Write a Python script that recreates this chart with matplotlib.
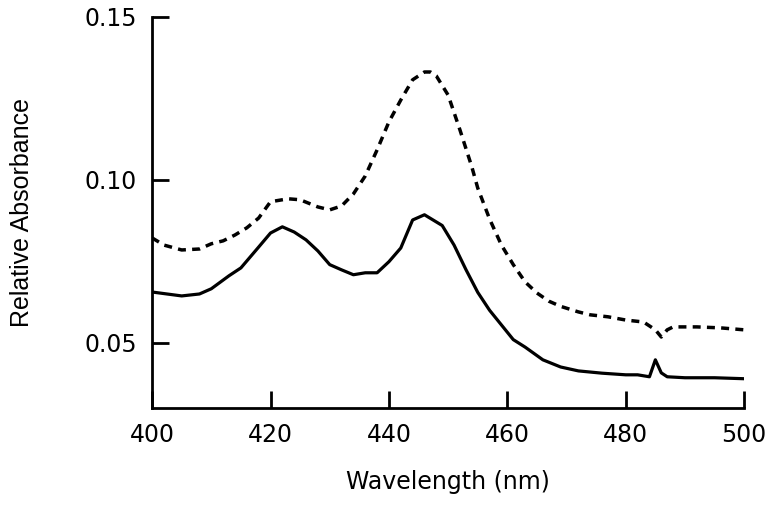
import matplotlib
matplotlib.use("Agg")
import matplotlib.pyplot as plt

solid_x = [400, 405, 408, 410, 413, 415, 418, 420, 422, 424, 426, 428, 430, 432, 434, 436, 438,
           440, 442, 444, 446, 449, 451, 453, 455, 457, 459, 461, 463, 466, 469, 472,
           476, 480, 482, 484, 485, 486, 487, 490, 495, 500]
solid_y = [0.0656, 0.0644, 0.0650, 0.0666, 0.0706, 0.0730, 0.0794, 0.0837, 0.0856, 0.0840,
           0.0816, 0.0782, 0.0740, 0.0724, 0.0709, 0.0715, 0.0715, 0.0749, 0.0791, 0.0877,
           0.0893, 0.0860, 0.0800, 0.0725, 0.0655, 0.0600, 0.0555, 0.0510, 0.0487, 0.0448,
           0.0426, 0.0414, 0.0407, 0.0402, 0.0402, 0.0396, 0.0448, 0.0408, 0.0396, 0.0393,
           0.0393, 0.0390]

dash_x = [400, 402, 405, 408, 410, 412, 414, 416, 418, 420, 423, 425, 428, 430, 432, 434, 436,
          438, 440, 442, 444, 446, 447, 448, 450, 452, 454, 455, 457, 459, 461, 463, 465, 467,
          469, 472, 474, 477, 480, 483, 485, 486, 487, 488, 492, 496, 500]
dash_y = [0.0822, 0.0800, 0.0785, 0.0788, 0.0804, 0.0813, 0.0831, 0.0853, 0.0883, 0.0933,
          0.0942, 0.0939, 0.0917, 0.0908, 0.0920, 0.0957, 0.1012, 0.1092, 0.1178, 0.1245,
          0.1307, 0.1331, 0.1331, 0.1319, 0.1260, 0.1153, 0.1040, 0.0975, 0.0880, 0.0800,
          0.0740, 0.0687, 0.0653, 0.0628, 0.0612, 0.0595, 0.0586, 0.0580, 0.0570, 0.0564,
          0.0540, 0.0518, 0.0540, 0.0549, 0.0549, 0.0546, 0.0540]

x_ticks = [400, 420, 440, 460, 480, 500]
y_ticks = [0.05, 0.10, 0.15]
y_tick_labels = ["0.05", "0.10", "0.15"]

fig = plt.figure(figsize=(7.76, 5.12), dpi=100)
ax = fig.add_axes([0.196, 0.203, 0.763, 0.764])
ax.plot(dash_x, dash_y, color="black", lw=2.5, linestyle=(0, (2.3, 1.8)))
ax.plot(solid_x, solid_y, color="black", lw=2.3)
ax.set_xlim(400, 500)
ax.set_ylim(0.03, 0.15)
ax.set_xticks(x_ticks)
ax.set_yticks(y_ticks)
ax.set_yticklabels(y_tick_labels)
for s in ["top", "right"]:
    ax.spines[s].set_visible(False)
for s in ["left", "bottom"]:
    ax.spines[s].set_linewidth(2.0)
ax.tick_params(direction="in", length=12, width=2.0, labelsize=17, pad=11)
ax.set_xlabel("Wavelength (nm)", fontsize=17, labelpad=16)
ax.set_ylabel("Relative Absorbance", fontsize=18, family="Liberation Sans")
ax.yaxis.set_label_coords(-0.2, 0.5)
fig.savefig("out.png", dpi=100)
